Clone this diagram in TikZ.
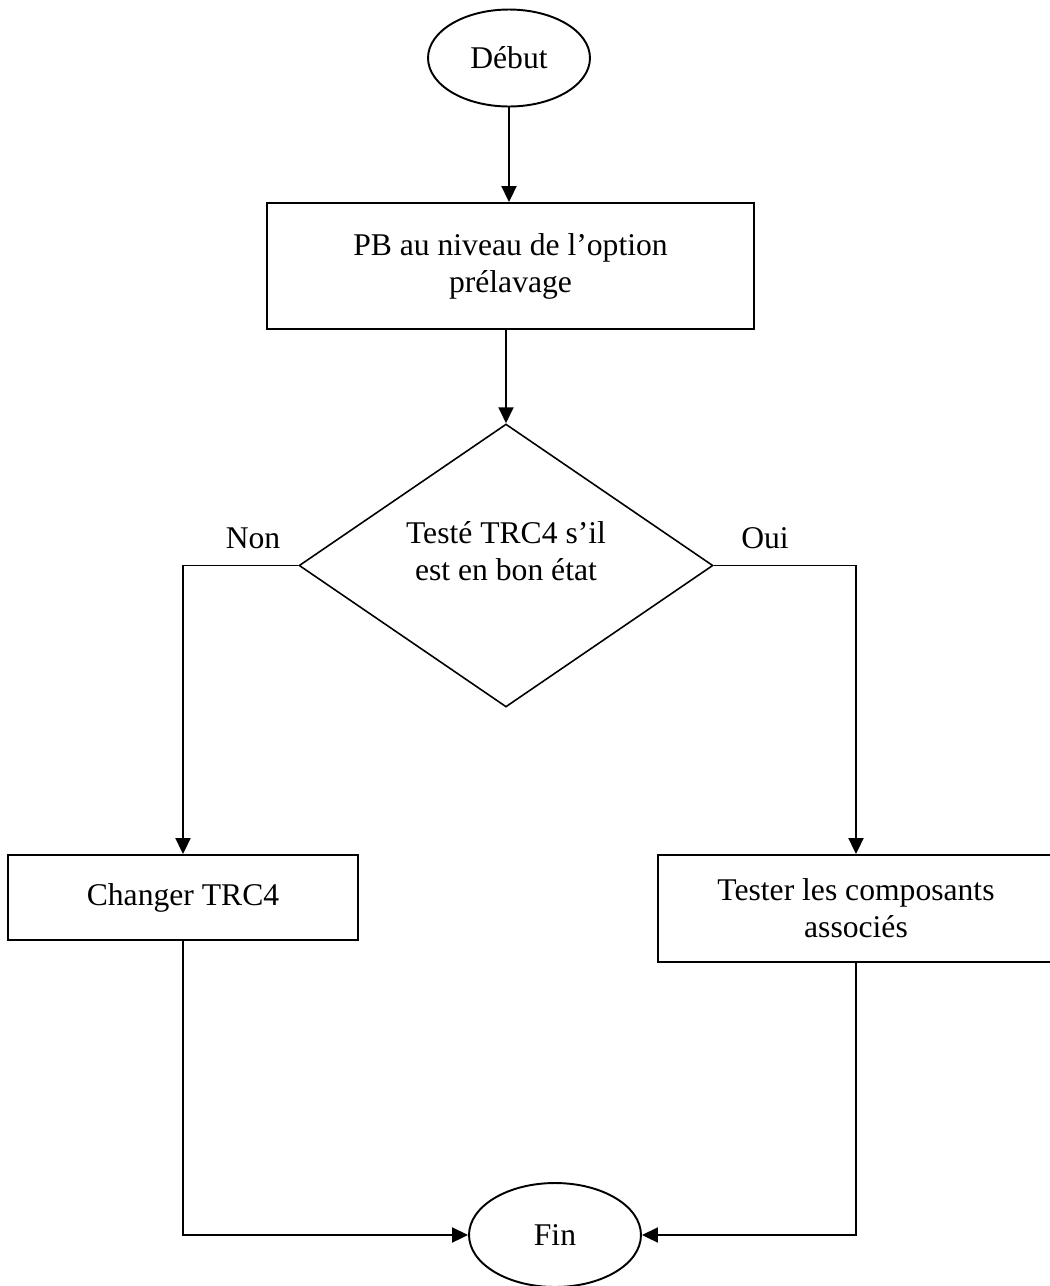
\documentclass[tikz,border=0pt]{standalone}
\usepackage{fontspec}
\setmainfont{Liberation Serif}
\usetikzlibrary{shapes.geometric, arrows.meta}

\begin{document}
\begin{tikzpicture}[x=0.02cm, y=-0.02cm,
    every node/.style={font=\fontsize{18}{21}\selectfont},
    block/.style={shape=rectangle, draw=black, line width=1.1pt, align=center, inner sep=0pt},
    terminal/.style={shape=ellipse, draw=black, line width=1.1pt, inner sep=0pt},
    decision/.style={shape=diamond, draw=black, line width=0.9pt, inner sep=0pt,
        minimum width=8.28cm, minimum height=5.66cm},
    flow/.style={line width=1.1pt, -{Triangle[length=0.32cm, width=0.3cm]}}]
    \useasboundingbox (0,0) rectangle (1050,1286);

    % start / end
    \node[terminal, minimum width=3.24cm, minimum height=1.94cm] (debut) at (509,58) {Début};
    \node[terminal, minimum width=3.44cm, minimum height=2.08cm] (fin) at (555,1235) {Fin};

    % boxes
    \node[block, minimum width=9.74cm, minimum height=2.52cm] (pb) at (510.5,266)
        {PB au niveau de l’option\\prélavage};
    \node[block, minimum width=7cm, minimum height=1.7cm] (changer) at (183,897.5) {Changer TRC4};
    \node[block, minimum width=7.92cm, minimum height=2.14cm] (tester) at (856,908.5)
        {Tester les composants\\associés};

    % decision
    \node[decision] (test) at (506,565.5) {};
    \node[align=center] (testtxt) at (506,551) {Testé TRC4 s’il\\est en bon état};
    \node (non) at (253,538) {Non};
    \node (oui) at (765,538) {Oui};

    % connectors
    \draw[flow] (debut.south) -- (debut.south |- pb.north);
    \draw[flow] (test.north |- pb.south) -- (test.north);
    \draw[flow] (test.west) -| (changer.north);
    \draw[flow] (test.east) -| (tester.north);
    \draw[flow] (changer.south) |- (fin.west);
    \draw[flow] (tester.south) |- (fin.east);
\end{tikzpicture}
\end{document}
